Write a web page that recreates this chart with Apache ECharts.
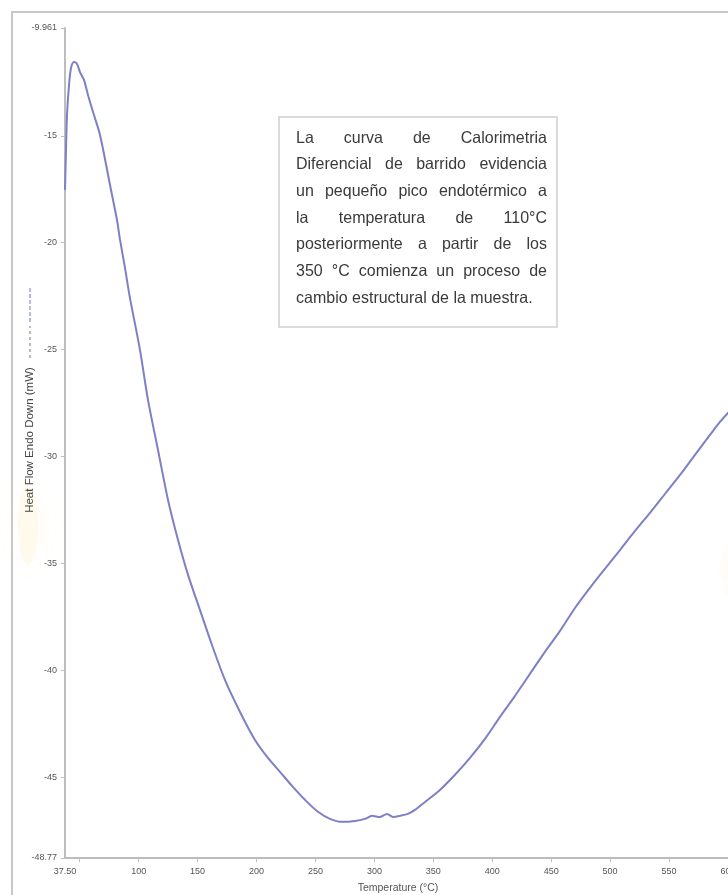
<!DOCTYPE html>
<html>
<head>
<meta charset="utf-8">
<script src="https://cdn.jsdelivr.net/npm/echarts@6/dist/echarts.min.js"></script>
<style>
  html, body { margin: 0; padding: 0; background: #fff; }
  #chart { width: 728px; height: 895px; }
</style>
</head>
<body>
<div id="chart"></div>
<script>
// DSC run: temperature (°C) vs heat flow (mW)
const temperature = [
  37.5, 38.35, 39.2, 40.9, 42.6, 45.1, 47.7, 50.2, 53.6, 57.0, 61.3, 67.2, 75.7, 81.6, 84.2,
  88.4, 92.6, 101.1, 107.9, 116.4, 124.9, 133.4, 141.9, 152.0, 162.2, 173.2, 186.0, 198.7,
  209.7, 219.9, 230.1, 241.1, 252.1, 262.3, 272.5, 283.5, 292.0, 298.0, 304.7, 310.7, 315.8,
  321.7, 328.5, 334.4, 342.9, 355.6, 368.4, 381.1, 393.8, 406.6, 419.3, 432.0, 444.7, 457.5,
  470.2, 482.9, 495.6, 508.4, 521.1, 533.8, 546.5, 559.3, 572.0, 584.7, 593.2, 600.0, 608.0
];
const heatFlow = [
  -17.53, -15.66, -14.03, -12.63, -11.83, -11.55, -11.64, -12.02, -12.39, -13.09, -13.89, -14.96,
  -17.30, -18.94, -19.87, -21.18, -22.58, -25.01, -27.35, -29.69, -32.03, -33.90, -35.53, -37.17,
  -38.81, -40.44, -41.94, -43.25, -44.09, -44.74, -45.40, -46.05, -46.61, -46.94, -47.08, -47.04,
  -46.94, -46.80, -46.85, -46.71, -46.85, -46.80, -46.71, -46.52, -46.15, -45.59, -44.88, -44.09,
  -43.20, -42.17, -41.19, -40.16, -39.13, -38.15, -37.08, -36.14, -35.25, -34.37, -33.48, -32.63,
  -31.75, -30.86, -29.92, -28.99, -28.38, -27.96, -27.50
];

const xMin = 37.5, xMax = 608.5;
const yMin = -48.77, yMax = -9.961;
const xLabelValues = [37.5, 100, 150, 200, 250, 300, 350, 400, 450, 500, 550, 600];
const xTickValues = [50, 100, 150, 200, 250, 300, 350, 400, 450, 500, 550, 600];
const yLabelValues = [-48.77, -45, -40, -35, -30, -25, -20, -15, -9.961];

const noteLines = [
  'La curva de Calorimetria',
  'Diferencial de barrido evidencia',
  'un pequeño pico endotérmico a',
  'la temperatura de 110°C',
  'posteriormente a partir de los',
  '350 °C comienza un proceso de',
  'cambio estructural de la muestra.'
];

const axisGray = '#bdbdbd';
const labelColor = '#555';
const curveColor = '#7d80c6';

// Justified note text: each word is placed so the line spans the box width
const noteFont = '16.5px "Liberation Sans", Arial, sans-serif';
const noteLeft = 296, noteRight = 547, noteTop = 138, noteStep = 26.7, noteSqueeze = 0.97;
const measureCtx = document.createElement('canvas').getContext('2d');
measureCtx.font = noteFont;
const noteWords = [];
noteLines.forEach((line, i) => {
  const words = line.split(/\s+/);
  const y = noteTop + i * noteStep;
  const last = i === noteLines.length - 1;
  const widths = words.map(w => measureCtx.measureText(w).width * noteSqueeze);
  const total = widths.reduce((a, b) => a + b, 0);
  const gap = last ? measureCtx.measureText(' ').width * noteSqueeze
                   : (noteRight - noteLeft - total) / (words.length - 1);
  let x = noteLeft;
  words.forEach((w, k) => {
    noteWords.push({
      type: 'text', x: x, y: y, z: 12, scaleX: noteSqueeze,
      style: { text: w, font: noteFont, fill: '#3a3a3a', textVerticalAlign: 'middle' }
    });
    x += widths[k] + gap;
  });
});

const chart = echarts.init(document.getElementById('chart'), null, { renderer: 'canvas' });
chart.setOption({
  backgroundColor: '#fff',
  animation: false,
  grid: { left: 65, right: -10, top: 28, bottom: 37, outerBoundsMode: 'none', containLabel: false },
  xAxis: {
    type: 'value', min: xMin, max: xMax,
    splitLine: { show: false },
    axisLine: { lineStyle: { color: axisGray, width: 2 } },
    axisTick: { customValues: xTickValues, length: 4, lineStyle: { color: axisGray } },
    axisLabel: {
      customValues: xLabelValues, color: labelColor, fontSize: 9, margin: 9,
      fontFamily: 'Liberation Sans',
      formatter: v => (v === 37.5 ? '37.50' : String(v))
    }
  },
  yAxis: {
    type: 'value', min: yMin, max: yMax,
    splitLine: { show: false },
    axisLine: { lineStyle: { color: axisGray, width: 2 } },
    axisTick: { customValues: yLabelValues, length: 4, lineStyle: { color: axisGray } },
    axisLabel: {
      customValues: yLabelValues, color: labelColor, fontSize: 9, margin: 8,
      fontFamily: 'Liberation Sans',
      formatter: v => (v === -48.77 ? '-48.77' : v === -9.961 ? '-9.961' : String(v))
    }
  },
  series: [{
    type: 'line',
    data: temperature.map((t, i) => [t, heatFlow[i]]),
    smooth: 0.3,
    symbol: 'none',
    lineStyle: { color: curveColor, width: 2 },
    z: 3
  }],
  graphic: [
    // outer frame
    { type: 'rect', shape: { x: 12, y: 12, width: 800, height: 920 },
      style: { fill: 'none', stroke: '#c8c8c8', lineWidth: 2 }, z: 1 },
    // faint yellow stains on the margins
    { type: 'ellipse', shape: { cx: 28, cy: 525, rx: 10, ry: 40 }, silent: true,
      style: { fill: 'rgba(255, 220, 130, 0.12)', shadowBlur: 34,
               shadowColor: 'rgba(255, 205, 90, 0.55)' }, z: 0 },
    { type: 'ellipse', shape: { cx: 726, cy: 570, rx: 4, ry: 28 }, silent: true,
      style: { fill: 'rgba(255, 225, 140, 0.06)', shadowBlur: 24,
               shadowColor: 'rgba(255, 215, 120, 0.3)' }, z: 0 },
    // axis titles
    { type: 'text', x: 30, y: 440, rotation: Math.PI / 2,
      style: { text: 'Heat Flow Endo Down (mW)', font: '11.5px "Liberation Sans", Arial',
               fill: '#444', textAlign: 'center', textVerticalAlign: 'middle' } },
    { type: 'line', shape: { x1: 30, y1: 358, x2: 30, y2: 326 },
      style: { stroke: '#777', lineWidth: 1, lineDash: [3, 3] } },
    { type: 'line', shape: { x1: 30, y1: 322, x2: 30, y2: 286 },
      style: { stroke: '#8a8dd6', lineWidth: 1.2, lineDash: [4, 2] } },
    { type: 'text', x: 398, y: 888,
      style: { text: 'Temperature (°C)', font: '10.5px "Liberation Sans", Arial',
               fill: '#555', textAlign: 'center', textVerticalAlign: 'middle' } },
    // note box
    { type: 'rect', shape: { x: 279, y: 117, width: 278, height: 210 },
      style: { fill: '#fff', stroke: '#cfcfcf', lineWidth: 1.5 }, z: 11 }
  ].concat(noteWords)
});
</script>
</body>
</html>
